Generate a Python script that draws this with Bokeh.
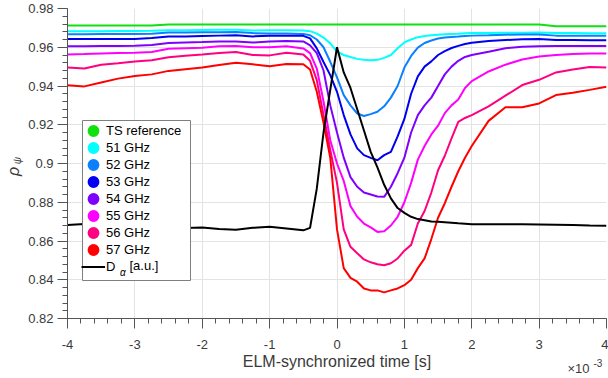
import numpy as np
from bokeh.plotting import figure
from bokeh.layouts import row, column
from bokeh.models import (Legend, LegendItem, Label, Range1d, SingleIntervalTicker,
                          CustomJSTickFormatter, BoxAnnotation)
from bokeh.embed import file_html
from bokeh.resources import INLINE

# ELM-synchronized time in units of 1e-3 s
t_ms = [-4.0, -3.75, -3.5, -3.25, -3.0, -2.75, -2.5, -2.25, -2.0, -1.75, -1.5, -1.25,
        -1.0, -0.75, -0.5, -0.4, -0.3, -0.2, -0.1, 0.0, 0.1, 0.2, 0.3, 0.4, 0.5, 0.6,
        0.7, 0.8, 0.9, 1.0, 1.1, 1.2, 1.3, 1.4, 1.5, 1.6, 1.7, 1.8, 1.9, 2.0, 2.25,
        2.5, 2.75, 3.0, 3.25, 3.5, 3.75, 4.0]

ts_reference = [0.9712, 0.9712, 0.9712, 0.9712, 0.9712, 0.9712, 0.9718, 0.9718, 0.9718,
                0.9718, 0.9718, 0.9718, 0.9718, 0.9718, 0.9718, 0.9718, 0.9718, 0.9718,
                0.9718, 0.9718, 0.9718, 0.9718, 0.9718, 0.9718, 0.9718, 0.9718, 0.9718,
                0.9718, 0.9718, 0.9718, 0.9718, 0.9718, 0.9718, 0.9718, 0.9718, 0.9718,
                0.9718, 0.9718, 0.9718, 0.9718, 0.9718, 0.9718, 0.9718, 0.9718, 0.9708,
                0.9708, 0.9708, 0.9708]

ghz51 = [0.9683, 0.9683, 0.9683, 0.9684, 0.9684, 0.9685, 0.9688, 0.9688, 0.9689, 0.9690,
         0.9690, 0.9686, 0.9688, 0.9688, 0.9686, 0.9683, 0.9670, 0.9650, 0.9620, 0.9578,
         0.9560, 0.9550, 0.9540, 0.9535, 0.9533, 0.9535, 0.9545, 0.9560, 0.9595, 0.9625,
         0.9640, 0.9652, 0.9658, 0.9662, 0.9665, 0.9667, 0.9669, 0.9670, 0.9672, 0.9673,
         0.9674, 0.9675, 0.9675, 0.9676, 0.9673, 0.9673, 0.9672, 0.9672]

ghz52 = [0.9667, 0.9667, 0.9668, 0.9668, 0.9668, 0.9670, 0.9676, 0.9676, 0.9677, 0.9678,
         0.9679, 0.9673, 0.9671, 0.9671, 0.9669, 0.9662, 0.9640, 0.9600, 0.9525, 0.9445,
         0.9353, 0.9300, 0.9258, 0.9245, 0.9255, 0.9267, 0.9295, 0.9340, 0.9400, 0.9495,
         0.9555, 0.9598, 0.9622, 0.9635, 0.9645, 0.9650, 0.9653, 0.9655, 0.9658, 0.9660,
         0.9662, 0.9665, 0.9666, 0.9666, 0.9660, 0.9660, 0.9660, 0.9659]

ghz53 = [0.9642, 0.9642, 0.9642, 0.9643, 0.9643, 0.9648, 0.9655, 0.9656, 0.9658, 0.9660,
         0.9662, 0.9656, 0.9659, 0.9660, 0.9659, 0.9646, 0.9594, 0.9524, 0.9456, 0.9370,
         0.9250, 0.9150, 0.9078, 0.9043, 0.9029, 0.9017, 0.9043, 0.9060, 0.9140, 0.9230,
         0.9360, 0.9450, 0.9500, 0.9527, 0.9560, 0.9580, 0.9596, 0.9607, 0.9617, 0.9623,
         0.9632, 0.9637, 0.9641, 0.9643, 0.9637, 0.9637, 0.9636, 0.9636]

ghz54 = [0.9605, 0.9605, 0.9606, 0.9607, 0.9608, 0.9612, 0.9622, 0.9625, 0.9627, 0.9630,
         0.9630, 0.9624, 0.9630, 0.9632, 0.9630, 0.9610, 0.9570, 0.9480, 0.9300, 0.9160,
         0.9030, 0.8930, 0.8880, 0.8850, 0.8840, 0.8830, 0.8828, 0.8880, 0.8950, 0.9030,
         0.9160, 0.9250, 0.9300, 0.9340, 0.9400, 0.9460, 0.9500, 0.9530, 0.9550, 0.9560,
         0.9577, 0.9595, 0.9603, 0.9605, 0.9606, 0.9606, 0.9607, 0.9607]

ghz55 = [0.9563, 0.9565, 0.9568, 0.9570, 0.9572, 0.9575, 0.9592, 0.9595, 0.9598, 0.9605,
         0.9607, 0.9600, 0.9600, 0.9605, 0.9594, 0.9570, 0.9490, 0.9320, 0.9120, 0.9000,
         0.8910, 0.8780, 0.8725, 0.8690, 0.8670, 0.8647, 0.8650, 0.8680, 0.8725, 0.8800,
         0.8900, 0.9020, 0.9090, 0.9150, 0.9195, 0.9260, 0.9300, 0.9330, 0.9390, 0.9425,
         0.9475, 0.9510, 0.9537, 0.9552, 0.9560, 0.9565, 0.9568, 0.9568]

ghz56 = [0.9496, 0.9490, 0.9510, 0.9518, 0.9527, 0.9533, 0.9548, 0.9556, 0.9562, 0.9570,
         0.9575, 0.9560, 0.9558, 0.9572, 0.9563, 0.9530, 0.9430, 0.9250, 0.9070, 0.8900,
         0.8660, 0.8570, 0.8537, 0.8505, 0.8490, 0.8480, 0.8475, 0.8485, 0.8510, 0.8550,
         0.8580, 0.8690, 0.8755, 0.8850, 0.8965, 0.9040, 0.9130, 0.9215, 0.9235, 0.9250,
         0.9295, 0.9350, 0.9405, 0.9432, 0.9470, 0.9485, 0.9498, 0.9496]

ghz57 = [0.9404, 0.9398, 0.9418, 0.9438, 0.9452, 0.9460, 0.9478, 0.9487, 0.9495, 0.9508,
         0.9520, 0.9512, 0.9502, 0.9513, 0.9512, 0.9485, 0.9370, 0.9210, 0.9030, 0.8660,
         0.8460, 0.8410, 0.8390, 0.8355, 0.8345, 0.8345, 0.8335, 0.8345, 0.8355, 0.8372,
         0.8400, 0.8460, 0.8510, 0.8610, 0.8720, 0.8795, 0.8880, 0.8960, 0.9030, 0.9090,
         0.9220, 0.9290, 0.9290, 0.9310, 0.9353, 0.9365, 0.9380, 0.9396]

d_alpha = [0.8682, 0.8688, 0.8685, 0.8680, 0.8675, 0.8672, 0.8670, 0.8667, 0.8670, 0.8662,
           0.8658, 0.8668, 0.8673, 0.8665, 0.8655, 0.8668, 0.8870, 0.9160, 0.9380, 0.9600,
           0.9470, 0.9390, 0.9280, 0.9170, 0.9060, 0.8980, 0.8890, 0.8820, 0.8770, 0.8745,
           0.8725, 0.8713, 0.8707, 0.8701, 0.8699, 0.8697, 0.8694, 0.8691, 0.8689, 0.8687,
           0.8686, 0.8686, 0.8686, 0.8685, 0.8684, 0.8682, 0.8680, 0.8679]

series_names = ["TS reference", "51 GHz", "52 GHz", "53 GHz", "54 GHz", "55 GHz", "56 GHz", "57 GHz"]
series_values = [ts_reference, ghz51, ghz52, ghz53, ghz54, ghz55, ghz56, ghz57]
series_colors = ["#10E010", "#00FFFF", "#0A80FF", "#0000F0", "#8000FF", "#FF00FF", "#FF0080", "#FF0000"]

FONT = "Liberation Sans"
TXT = "#3a3a3a"
LEFT_W = 24          # width of the strip holding the y label
FRAME_LEFT = 67      # canvas x of the plot frame's left edge


def strip(w, h):
    s = figure(width=w, height=h, output_backend="svg", toolbar_location=None,
               x_range=Range1d(0, 1), y_range=Range1d(0, 1), min_border=0,
               x_axis_location=None, y_axis_location=None)
    s.outline_line_color = None
    s.grid.visible = False
    return s


# ---------------- main plot ----------------
p = figure(width=608 - LEFT_W, height=354, output_backend="svg", toolbar_location=None,
           x_range=Range1d(-4, 4), y_range=Range1d(0.82, 0.98),
           min_border_left=FRAME_LEFT - LEFT_W, min_border_right=2, min_border_top=8,
           min_border_bottom=36)
p.outline_line_color = None
p.extra_y_ranges = {"legend_proxy": Range1d(10, 11)}

p.xaxis.ticker = SingleIntervalTicker(interval=1, num_minor_ticks=5)
p.yaxis.ticker = SingleIntervalTicker(interval=0.02, num_minor_ticks=5)
p.yaxis.formatter = CustomJSTickFormatter(code="return String(Math.round(tick*100)/100);")
p.xaxis.formatter = CustomJSTickFormatter(code="return String(Math.round(tick));")
for ax in (p.xaxis[0], p.yaxis[0]):
    ax.axis_line_color = "#555555"
    ax.major_tick_line_color = "#555555"
    ax.minor_tick_line_color = "#555555"
    ax.major_tick_in = 0
    ax.major_tick_out = 10
    ax.minor_tick_in = 0
    ax.minor_tick_out = 5
    ax.major_label_text_font = FONT
    ax.major_label_text_font_size = "13px"
    ax.major_label_text_color = TXT
p.xaxis.major_label_standoff = 11
p.yaxis.major_label_standoff = 4
p.xgrid.grid_line_color = "#e3e3e3"
p.ygrid.grid_line_color = "#e3e3e3"

for name, vals, col in zip(series_names, series_values, series_colors):
    p.line(t_ms, vals, line_color=col, line_width=2)
p.line(t_ms, d_alpha, line_color="black", line_width=2)

# legend: proxies drawn on an off-screen range so only their legend glyphs show
items = []
for name, vals, col in zip(series_names, series_values, series_colors):
    r = p.scatter(t_ms, vals, y_range_name="legend_proxy", marker="circle", size=7,
                  fill_color=col, line_color=col, line_width=5)
    items.append(LegendItem(label=name, renderers=[r]))
rd = p.line(t_ms, d_alpha, y_range_name="legend_proxy", line_color="black", line_width=2)
items.append(LegendItem(label="D", renderers=[rd]))

BOX_X, BOX_Y, BOX_W, BOX_H = 15, 38, 108, 160
p.add_layout(BoxAnnotation(left=BOX_X, right=BOX_X + BOX_W, bottom=BOX_Y, top=BOX_Y + BOX_H,
                           left_units="screen", right_units="screen",
                           bottom_units="screen", top_units="screen",
                           fill_color="white", fill_alpha=1.0,
                           line_color="#7f7f7f", line_width=1, line_alpha=1.0))
legend = Legend(items=items, location=(14, 43), orientation="vertical",
                border_line_color=None, background_fill_alpha=0.0,
                label_text_font=FONT, label_text_font_size="13px", label_text_color="black",
                glyph_width=24, glyph_height=17, label_height=17, label_standoff=1,
                spacing=0, padding=3, margin=0)
p.add_layout(legend, "center")
p.add_layout(Label(x=52.5, y=46, x_units="screen", y_units="screen", text="α", level="overlay",
                   text_font=FONT, text_font_size="10px", text_font_style="italic",
                   text_baseline="middle", text_align="left", text_color="black"))
p.add_layout(Label(x=62, y=53, x_units="screen", y_units="screen", text="[a.u.]", level="overlay",
                   text_font=FONT, text_font_size="13px",
                   text_baseline="middle", text_align="left", text_color="black"))

# ---------------- y label strip ----------------
left = strip(LEFT_W, 378)
left.add_layout(Label(x=12.5, y=207, x_units="screen", y_units="screen", text="ρ",
                      text_font=FONT, text_font_size="16px", text_font_style="italic",
                      angle=np.pi / 2, text_baseline="middle", text_align="center",
                      text_color=TXT))
left.add_layout(Label(x=16.5, y=218, x_units="screen", y_units="screen", text="ψ",
                      text_font=FONT, text_font_size="10px", text_font_style="italic",
                      angle=np.pi / 2, text_baseline="middle", text_align="center",
                      text_color=TXT))

# ---------------- x label strip (its frame is aligned with the main frame) ----------------
bottom = strip(608 - LEFT_W, 24)
bottom.add_layout(Label(x=336.5 - FRAME_LEFT, y=17, x_units="screen", y_units="screen",
                        text="ELM-synchronized time [s]", text_font=FONT,
                        text_font_size="16px", text_baseline="middle", text_align="center",
                        text_color=TXT))
bottom.add_layout(Label(x=567 - FRAME_LEFT, y=10, x_units="screen", y_units="screen", text="×10",
                        text_font=FONT, text_font_size="13px", text_baseline="alphabetic",
                        text_align="left", text_color=TXT))
bottom.add_layout(Label(x=593 - FRAME_LEFT, y=16, x_units="screen", y_units="screen", text="-3",
                        text_font=FONT, text_font_size="10px", text_baseline="alphabetic",
                        text_align="left", text_color=TXT))

layout = row(left, column(p, bottom))
open("out.html", "w").write(file_html(layout, INLINE))
